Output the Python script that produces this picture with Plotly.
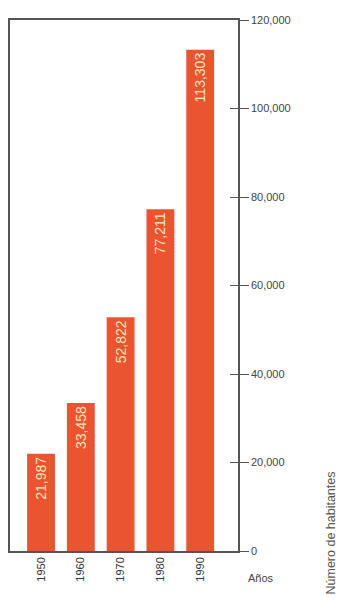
import plotly.graph_objects as go

years = ["1950", "1960", "1970", "1980", "1990"]
population = [21987, 33458, 52822, 77211, 113303]
y_ticks = [0, 20000, 40000, 60000, 80000, 100000, 120000]
y_ticklabels = ["0", "20,000", "40,000", "60,000", "80,000", "100,000", "120,000"]

fig = go.Figure()
fig.add_trace(go.Bar(
    x=years, y=population,
    marker=dict(color="#EA5430", line=dict(width=0)),
    width=0.7,
    text=[f"{v:,}" for v in population],
    textposition="inside", insidetextanchor="end", textangle=-90,
    textfont=dict(family="Liberation Sans", size=14, color="#F6E6BC"),
    cliponaxis=False,
))
# overlay axis to draw inward tick part
fig.add_trace(go.Scatter(x=years, y=population, yaxis="y2", mode="none",
                         showlegend=False, hoverinfo="skip"))

fig.update_layout(
    width=338, height=604,
    margin=dict(l=8, r=100, t=20, b=53),
    paper_bgcolor="white", plot_bgcolor="white",
    showlegend=False,
    font=dict(family="Liberation Sans", color="#444444", size=11),
    xaxis=dict(
        type="category", range=[-0.78, 4.95],
        showline=True, linecolor="#555555", linewidth=1.5, mirror=True,
        ticks="", tickangle=-90, tickfont=dict(size=11, color="#333333"),
        showgrid=False, zeroline=False,
    ),
    yaxis=dict(
        side="right", range=[0, 120000],
        tickvals=y_ticks, ticktext=y_ticklabels,
        ticks="outside", ticklen=9, tickcolor="#555555",
        showline=True, linecolor="#555555", linewidth=1.5, mirror=True,
        showgrid=False, zeroline=False,
        tickfont=dict(size=11, color="#444444"),
    ),
    yaxis2=dict(
        overlaying="y", side="right", range=[0, 120000],
        tickvals=y_ticks[1:], ticks="inside", ticklen=8, tickcolor="#555555",
        showticklabels=False, showgrid=False, zeroline=False, showline=False,
    ),
    annotations=[
        dict(text="Años", x=1.0, y=0, xref="paper", yref="paper",
             xshift=8, yshift=-27, xanchor="left", yanchor="middle",
             showarrow=False, font=dict(size=11, color="#444444")),
        dict(text="Número de habitantes", x=1.0, y=0, xref="paper", yref="paper",
             xshift=92, yshift=-46, xanchor="center", yanchor="bottom",
             textangle=-90, showarrow=False, font=dict(size=12.5, color="#555555")),
    ],
)

fig.write_html("out.html")
